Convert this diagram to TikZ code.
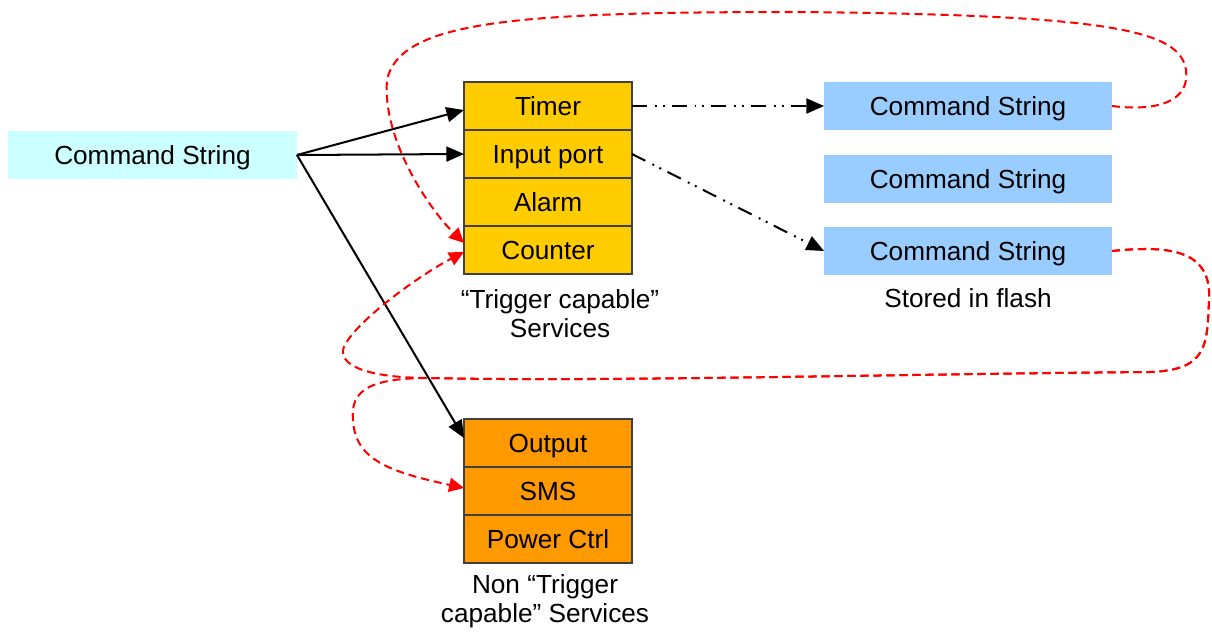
\documentclass[tikz,border=0pt]{standalone}
\usepackage{fontspec}
\setmainfont{Liberation Sans}
\usetikzlibrary{positioning,arrows.meta}
\definecolor{cellyellow}{RGB}{255,204,0}
\definecolor{cellorange}{RGB}{255,153,0}
\definecolor{cmdcyan}{RGB}{204,255,255}
\definecolor{cmdblue}{RGB}{153,204,255}

\begin{document}
\begin{tikzpicture}[x=0.02cm,y=-0.02cm,every node/.style={font=\fontsize{14.9}{16.5}\selectfont,inner sep=0pt,outer sep=0pt},box/.style={text height=12.2pt,text depth=1pt},cell/.style={box,draw=black!75,line width=0.6pt,minimum width=3.36cm,minimum height=0.96cm},trig/.style={cell,fill=cellyellow},nontrig/.style={cell,fill=cellorange},cmd/.style={box,fill=cmdblue,minimum width=5.76cm,minimum height=0.96cm},caption/.style={align=center},link/.style={-{Triangle[length=10pt,width=8.5pt]},line width=1.15pt},flash/.style={link,dash pattern=on 8.5pt off 4.5pt on 1.1pt off 3.4pt on 1.1pt off 4pt},rerun/.style={-{Triangle[length=8.5pt,width=8pt]},red,line width=1.15pt,dash pattern=on 4.6pt off 2.8pt}]
      \useasboundingbox (0,0) rectangle (1212,632);

      \node[box,fill=cmdcyan,minimum width=5.78cm,minimum height=0.96cm] (cmdin) at (152.5,155) {Command String};

      \node[trig] (timer) at (548,106) {Timer};
      \node[trig,below=0pt of timer] (inport) {Input port};
      \node[trig,below=0pt of inport] (alarm) {Alarm};
      \node[trig,below=0pt of alarm] (counter) {Counter};
      \node[caption] (trigtxt) at (560,314) {“Trigger capable”\\Services};

      \node[nontrig] (output) at (548,443) {Output};
      \node[nontrig,below=0pt of output] (sms) {SMS};
      \node[nontrig,below=0pt of sms] (powerctl) {Power Ctrl};
      \node[caption] (nontrigtxt) at (545,601) {Non “Trigger\\capable” Services};

      \node[cmd] (cmdA) at (968,106) {Command String};
      \node[cmd] (cmdB) at (968,179) {Command String};
      \node[cmd] (cmdC) at (968,251) {Command String};
      \node[caption] (flashtxt) at (968,298) {Stored in flash};

      \draw[link] (cmdin.east) -- ([yshift=-0.08cm]timer.west);
      \draw[link] (cmdin.east) -- (inport.west);
      \draw[link] (cmdin.east) -- ([yshift=0.1cm]output.west);

      \draw[flash] (timer.east) -- (cmdA.west);
      \draw[flash] (inport.east) -- (cmdC.west);

      \draw[rerun] (cmdA.east) .. controls (1160,112) and (1190,100) .. (1186,70) .. controls (1180,30) and (1110,15) .. (800,12) .. controls (520,12) and (400,20) .. (387,80) .. controls (382,140) and (430,210) .. ([yshift=0.14cm]counter.west);
      \draw[rerun] (cmdC.east) .. controls (1170,245) and (1212,250) .. (1209,300) .. controls (1207,345) and (1208,370) .. (1150,372) .. controls (900,374) and (600,382) .. (430,378) .. controls (360,378) and (330,362) .. (348,340) .. controls (365,315) and (420,275) .. ([yshift=-0.04cm]counter.west);
      \draw[rerun] (cmdC.east) .. controls (1170,245) and (1212,250) .. (1209,300) .. controls (1207,345) and (1208,370) .. (1150,372) .. controls (900,374) and (600,382) .. (430,378) .. controls (370,378) and (350,390) .. (353,420) .. controls (355,460) and (390,472) .. ([yshift=0.06cm]sms.west);
    \end{tikzpicture}
\end{document}
